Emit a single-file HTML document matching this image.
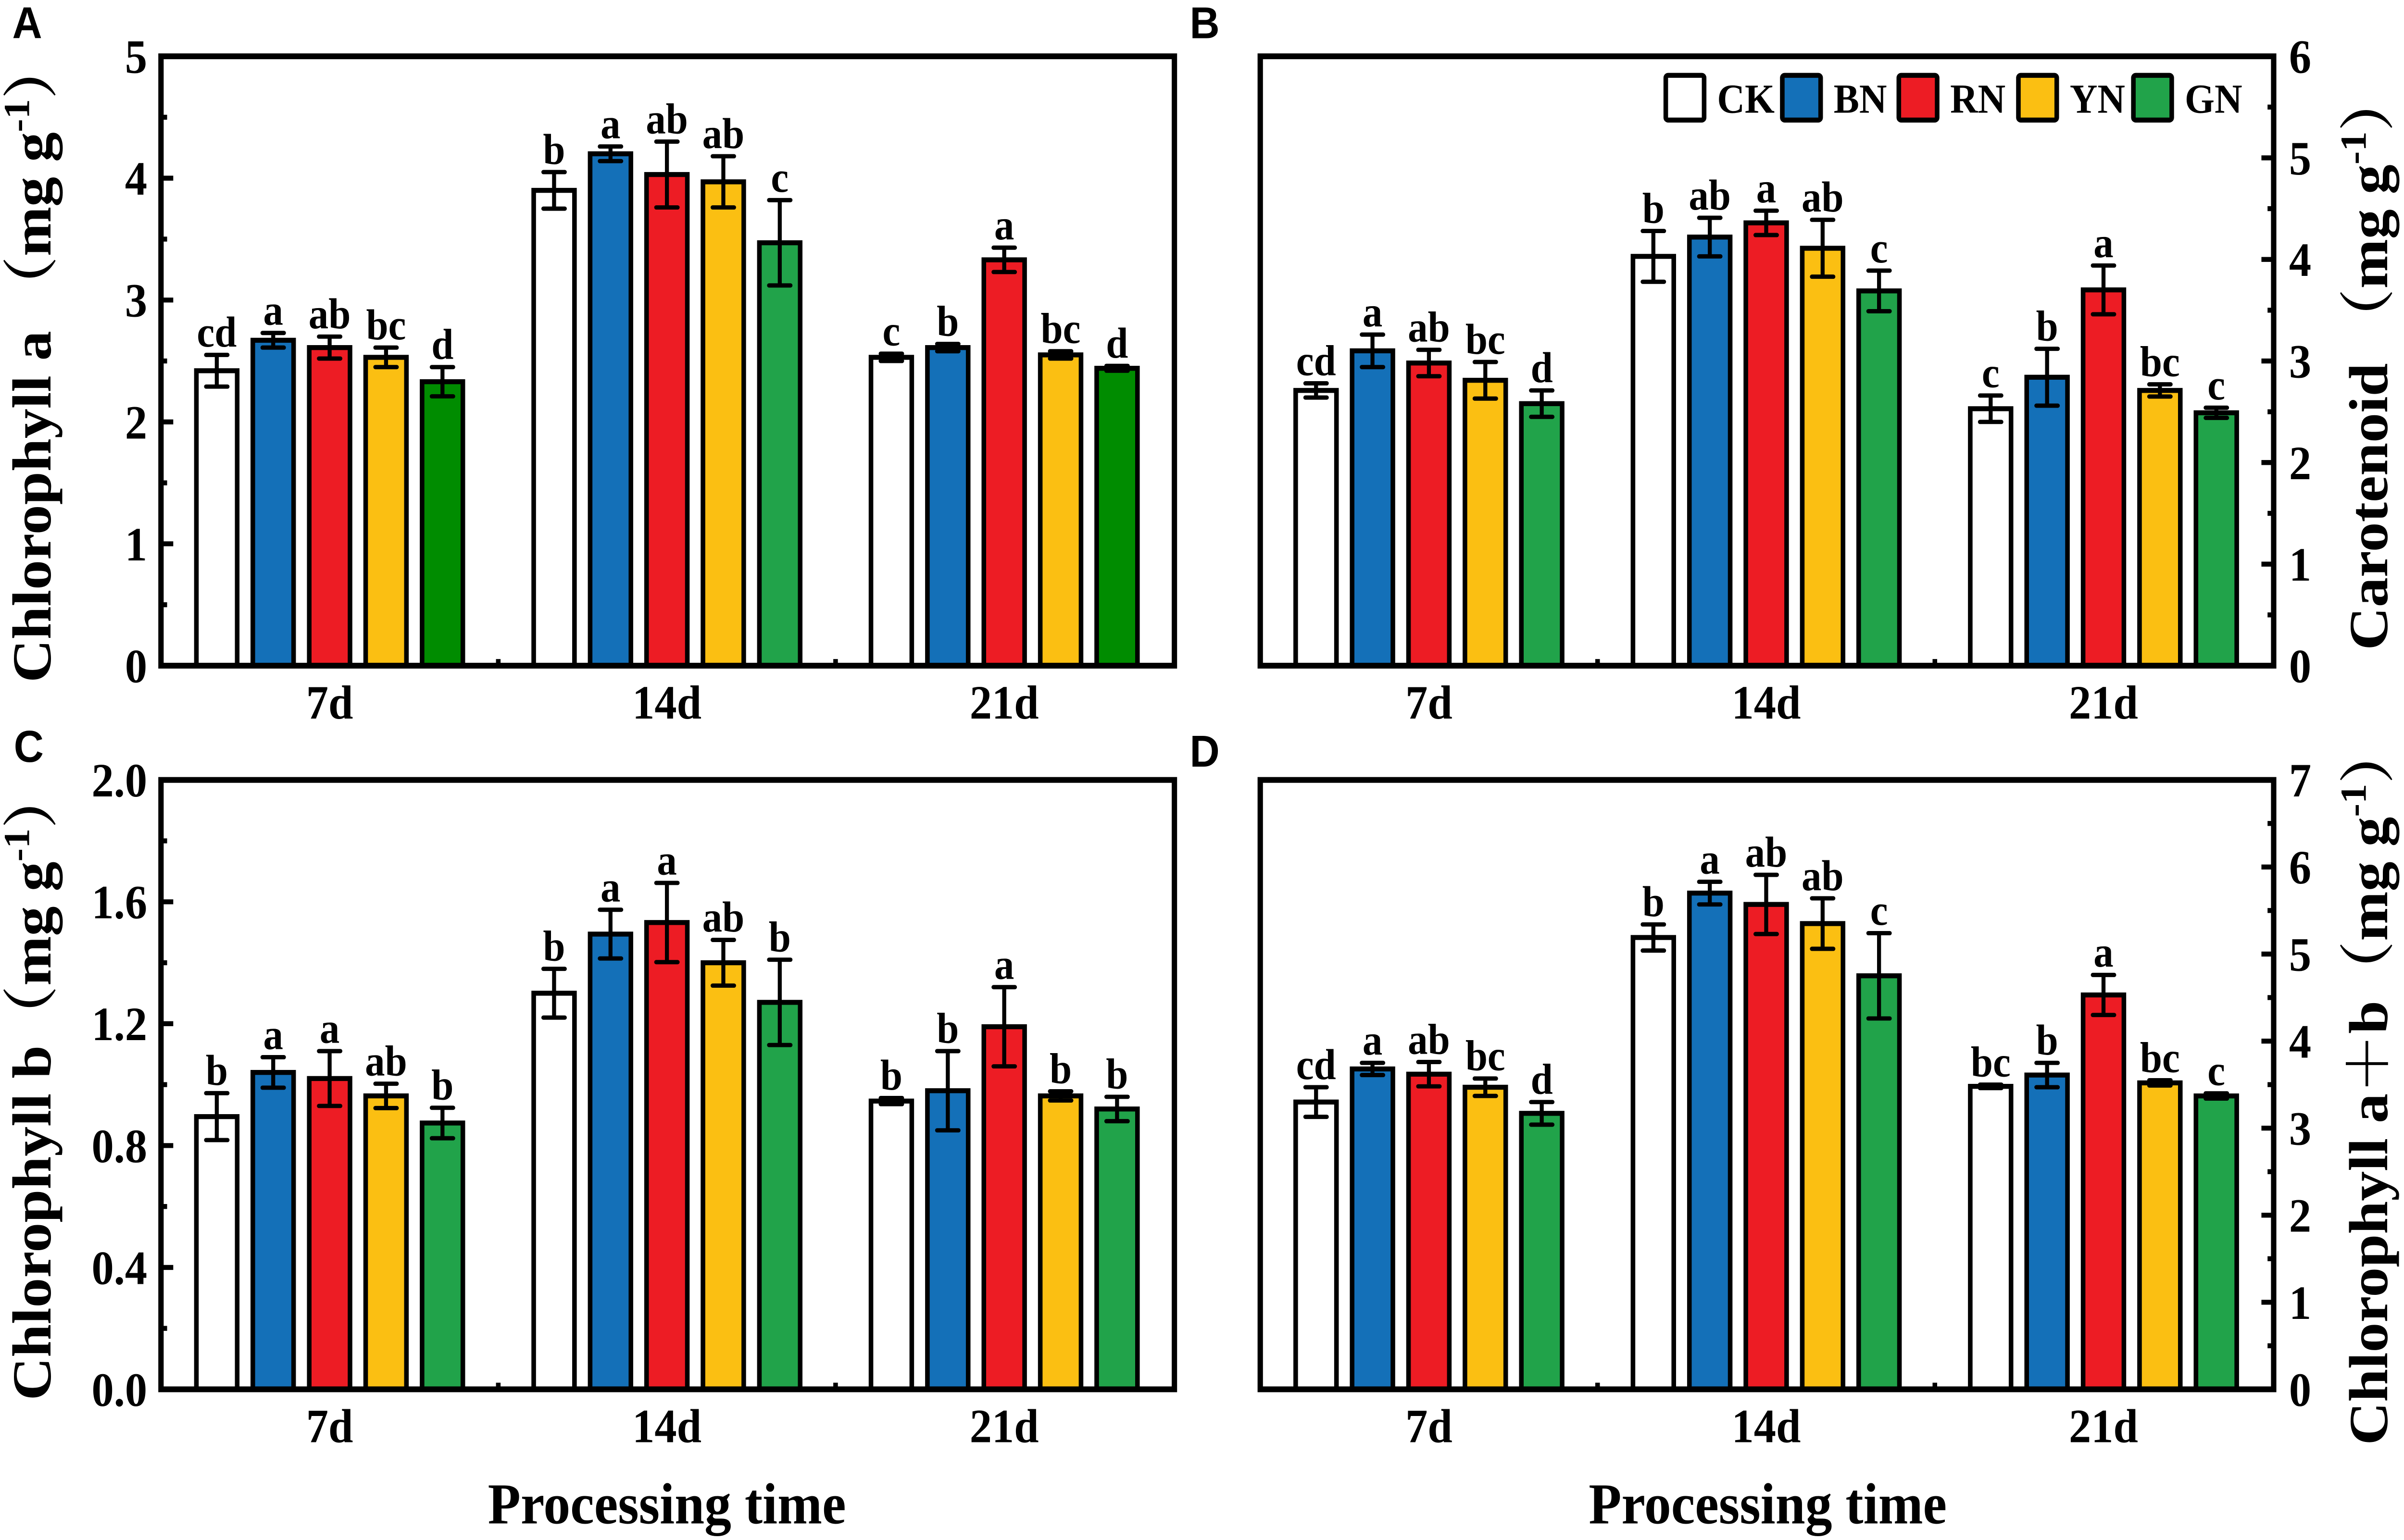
<!DOCTYPE html>
<html><head><meta charset="utf-8"><style>
html,body{margin:0;padding:0;background:#fff;overflow:hidden;width:100%;height:100%;}
svg{display:block;position:absolute;left:0;top:0;width:100vw;height:100vh;}
text{font-family:"Liberation Serif","Noto Serif CJK SC",serif;font-weight:bold;fill:#000;}
</style></head><body>
<svg id="fig" viewBox="0 0 1568 930" preserveAspectRatio="none" xmlns="http://www.w3.org/2000/svg"></svg>
<script>
const categories = ["7d","14d","21d"];
const seriesNames = ["CK","BN","RN","YN","GN"];
const colors = ["#ffffff","#1470b8","#ed1c24","#fbbf12","#21a34a"];
// Panel A: Chlorophyll a
const aVals = [[2.42,3.90,2.53],[2.67,4.20,2.61],[2.61,4.03,3.33],[2.53,3.97,2.55],[2.33,3.47,2.44]];
const aErr  = [[0.13,0.15,0.03],[0.06,0.06,0.03],[0.09,0.27,0.10],[0.08,0.21,0.03],[0.12,0.35,0.02]];
const aLet  = [["cd","b","c"],["a","a","b"],["ab","ab","a"],["bc","ab","bc"],["d","c","d"]];
// Panel B: Carotenoid
const bVals = [[2.71,4.03,2.53],[3.10,4.22,2.84],[2.98,4.36,3.70],[2.81,4.11,2.71],[2.58,3.69,2.49]];
const bErr  = [[0.07,0.25,0.13],[0.16,0.19,0.28],[0.13,0.12,0.24],[0.18,0.28,0.06],[0.13,0.20,0.05]];
const bLet  = [["cd","b","c"],["a","ab","b"],["ab","a","a"],["bc","ab","bc"],["d","c","c"]];
// Panel C: Chlorophyll b
const cVals = [[0.895,1.30,0.946],[1.04,1.494,0.98],[1.02,1.532,1.19],[0.963,1.40,0.963],[0.874,1.27,0.92]];
const cErr  = [[0.077,0.08,0.01],[0.05,0.08,0.13],[0.09,0.13,0.13],[0.04,0.075,0.015],[0.05,0.14,0.04]];
const cLet  = [["b","b","b"],["a","a","b"],["a","a","a"],["ab","ab","b"],["b","b","b"]];
// Panel D: Chlorophyll a+b
const dVals = [[3.30,5.19,3.48],[3.68,5.70,3.61],[3.62,5.57,4.53],[3.47,5.35,3.52],[3.17,4.75,3.37]];
const dErr  = [[0.17,0.15,0.02],[0.07,0.13,0.14],[0.14,0.34,0.23],[0.10,0.29,0.03],[0.13,0.49,0.03]];
const dLet  = [["cd","b","bc"],["a","a","b"],["ab","ab","a"],["bc","ab","bc"],["d","c","c"]];
const aTicks = [0,1,2,3,4,5];
const bTicks = [0,1,2,3,4,5,6];
const cTicks = [0,0.4,0.8,1.2,1.6,2.0];
const dTicks = [0,1,2,3,4,5,6,7];

const NS="http://www.w3.org/2000/svg";
const svg=document.getElementById('fig');
function mk(tag,attrs,parent){const e=document.createElementNS(NS,tag);for(const k in attrs)e.setAttribute(k,attrs[k]);(parent||svg).appendChild(e);return e;}

function panel(opt){
  const g=mk('g',{});
  
  
  const L=opt.left,R=opt.left+661,T=opt.top,B=opt.top+368;
  const max=opt.max,min=0;
  const y=v=>B-(v-min)/(max-min)*(B-T);
  const gx=i=>L+110+220*i;
  const bw=29.6,step=36.8;
  for(let s=0;s<5;s++){
    for(let i=0;i<3;i++){
      const v=opt.vals[s][i],e=opt.err[s][i];
      const cx=gx(i)+(s-2)*step;
      let fill=colors[s];
      if(opt.darkGreen&&s===4&&i!==1) fill="#008c00";
      const r=mk('rect',{x:cx-bw/2+1.5,y:y(v),width:bw-3,height:B-y(v),fill:fill,stroke:'#000','stroke-width':3},g);
      
      
      const eb=mk('path',{d:`M${cx} ${y(v+e)}V${y(v-e)}M${cx-7} ${y(v+e)}H${cx+7}M${cx-7} ${y(v-e)}H${cx+7}`,stroke:'#000','stroke-width':2.6,'stroke-linecap':'round',fill:'none'},g);
      
      
      const t=mk('text',{x:cx,y:y(v+e)-5,'text-anchor':'middle','font-size':26},g);
      t.textContent=opt.lets[s][i];
      
      
    }
  }
  const fr=mk('rect',{x:L,y:T,width:R-L,height:B-T,fill:'none',stroke:'#000','stroke-width':3.5},g);
  
  
  for(let k=1;k<3;k++){mk('line',{x1:L+220*k,x2:L+220*k,y1:B,y2:B-4,stroke:'#000','stroke-width':3},g);}
  for(let i=0;i<3;i++){
    const t=mk('text',{x:gx(i),y:B+32,'text-anchor':'middle','font-size':29},g);
    t.textContent=categories[i];
    
    
  }
  const ax=opt.rightAxis?R:L, dir=opt.rightAxis?-1:1;
  const ticks=opt.ticks;
  for(let k=0;k<ticks.length;k++){
    const v=ticks[k];
    mk('line',{x1:ax,x2:ax+dir*8,y1:y(v),y2:y(v),stroke:'#000','stroke-width':3},g);
    if(k<ticks.length-1){const m=(v+ticks[k+1])/2;mk('line',{x1:ax,x2:ax+dir*4,y1:y(m),y2:y(m),stroke:'#000','stroke-width':3},g);}
    const t=mk('text',{x:opt.rightAxis?ax+10:ax-9,y:y(v)+10,'text-anchor':opt.rightAxis?'start':'end','font-size':29},g);
    t.textContent=opt.fmt?v.toFixed(1):String(v);
    
    
  }
  const tx=opt.rightAxis?1557:33, ty=(T+B)/2;
  const tt=mk('text',{x:0,y:0,'text-anchor':'middle','font-size':36,transform:`translate(${tx},${ty}) rotate(-90)`},g);
  tt.innerHTML=opt.title+'<tspan>（mg g</tspan><tspan font-size="24" dy="-14">-1</tspan><tspan dy="14">）</tspan>';
  
  
}

panel({name:'panel-a',left:105,top:34,max:5,vals:aVals,err:aErr,lets:aLet,ticks:aTicks,title:'Chlorophyll a ',darkGreen:true});
panel({name:'panel-b',left:822,top:34,max:6,vals:bVals,err:bErr,lets:bLet,ticks:bTicks,title:'Carotenoid ',rightAxis:true});
panel({name:'panel-c',left:105,top:471,max:2,vals:cVals,err:cErr,lets:cLet,ticks:cTicks,title:'Chlorophyll b',fmt:true});
panel({name:'panel-d',left:822,top:471,max:7,vals:dVals,err:dErr,lets:dLet,ticks:dTicks,title:'Chlorophyll a＋b',rightAxis:true});

[['A',8,23],['B',776,23],['C',9,460],['D',776,463]].forEach(p=>{
  const t=mk('text',{x:p[1],y:p[2],'font-size':27,style:'font-family:"Liberation Sans",sans-serif'});
  t.textContent=p[0];
  
  
});
[435,1153].forEach(x=>{
  const t=mk('text',{x:x,y:920,'text-anchor':'middle','font-size':35});
  t.textContent='Processing time';
  
  
});
const legX=[1085,1161,1237,1315,1390];
for(let s=0;s<5;s++){
  const g=mk('g',{});
  
  
  mk('rect',{x:legX[s]+1.5,y:45.5,width:25,height:27,rx:1.5,fill:colors[s],stroke:'#000','stroke-width':3},g);
  const t=mk('text',{x:legX[s]+35,y:68,'font-size':25},g);
  t.textContent=seriesNames[s];
}
</script>
</body></html>
